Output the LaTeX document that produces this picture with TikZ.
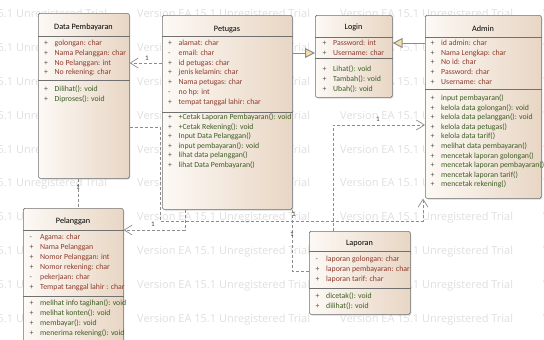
\documentclass[tikz,border=0pt]{standalone}
\usepackage{fontspec}
\setmainfont{Carlito}
\newfontfamily\wmfont{Open Sans}
\usepackage{array}
\usetikzlibrary{arrows.meta,shadows}

\definecolor{boxl}{HTML}{FDF9F5}
\definecolor{boxr}{HTML}{E8D6C4}
\definecolor{border}{HTML}{707070}
\definecolor{attrc}{HTML}{8E3A2C}
\definecolor{opc}{HTML}{3B5E23}
\definecolor{signc}{HTML}{555555}
\definecolor{linec}{HTML}{8C8C8C}
\definecolor{gentri}{HTML}{F6E1A4}
\definecolor{wmc}{HTML}{DFDFDF}

\newcolumntype{V}{>{\color{signc}}w{l}{10.5pt}}
\newcolumntype{A}{>{\color{attrc}}l}
\newcolumntype{O}{>{\color{opc}}l}

\begin{document}
\begin{tikzpicture}[x=1pt,y=-1pt,
  classbox/.style={draw=border, line width=0.6pt, rounded corners=1.5pt, left color=boxl, right color=boxr,
    anchor=north west, inner sep=0pt, drop shadow={shadow xshift=1pt, shadow yshift=-1.2pt, opacity=0.3}},
  classtitle/.style={anchor=base, inner sep=0pt, font=\fontsize{8.2}{9}\selectfont},
  members/.style={anchor=base west, inner sep=0pt, font=\fontsize{7.8}{9.8}\selectfont},
  sep/.style={draw=border, line width=0.5pt},
  dep/.style={draw=linec, line width=0.7pt, dash pattern=on 3pt off 2pt, -{Straight Barb[length=8pt,width=10pt]}},
  assoc/.style={draw=linec, line width=0.7pt, dash pattern=on 3pt off 2pt},
  gen/.style={draw=linec, line width=1pt, -{Triangle[length=10pt,width=10pt,fill=gentri]}},
  mult/.style={inner sep=0.5pt, text=black!75, font=\fontsize{7}{8}\selectfont},
  wmark/.style={anchor=west, inner sep=0pt, text=wmc, font=\wmfont\fontsize{11}{12}\selectfont}]
\useasboundingbox (0,0) rectangle (544,340);
\clip (0,0) rectangle (544,340);

% watermark
\foreach \r in {0,...,9}
  \foreach \c in {0,...,3}
    \node[wmark] (wm\r\c) at (-66+203*\c, 15+33.8*\r) {Version EA 15.1 Unregistered Trial};

% Data Pembayaran
\node[classbox, minimum width=91pt, minimum height=165pt] (dp) at (38,13) {};
\node[classtitle] (dp-t) at (83.5,30) {Data Pembayaran};
\draw[sep] (dp.west |- 0,36) -- (dp.east |- 0,36);
\draw[sep] (dp.west |- 0,80) -- (dp.east |- 0,80);
\node[members] (dp-a) at (44,45.6) {\begin{tabular}[t]{@{}V@{}A@{}}
+ & golongan: char\\ + & Nama Pelanggan: char\\ + & No Pelanggan: int\\ + & No rekening: char\end{tabular}};
\node[members] (dp-o) at (44,91.6) {\begin{tabular}[t]{@{}V@{}O@{}}
+ & Dilihat(): void\\ + & Diproses(): void\end{tabular}};

% Petugas
\node[classbox, minimum width=130pt, minimum height=194pt] (pt) at (162,15) {};
\node[classtitle] (pt-t) at (227,31) {Petugas};
\draw[sep] (pt.west |- 0,36) -- (pt.east |- 0,36);
\draw[sep] (pt.west |- 0,112) -- (pt.east |- 0,112);
\node[members] (pt-a) at (168,45.6) {\begin{tabular}[t]{@{}V@{}A@{}}
+ & alamat: char\\ - & email: char\\ + & id petugas: char\\ + & jenis kelamin: char\\
+ & Nama petugas: char\\ - & no hp: int\\ + & tempat tanggal lahir: char\end{tabular}};
\node[members, font=\fontsize{7.8}{9.5}\selectfont] (pt-o) at (168,119.6) {\begin{tabular}[t]{@{}V@{}O@{}}
+ & +Cetak Laporan Pembayaran(): void\\ + & +Cetak Rekening(): void\\ + & Input Data Pelanggan()\\
+ & input pembayaran(): void\\ + & lihat data pelanggan()\\ + & lihat Data Pembayaran()\end{tabular}};

% Login
\node[classbox, minimum width=77pt, minimum height=82pt] (lg) at (315,15) {};
\node[classtitle] (lg-t) at (353.5,30) {Login};
\draw[sep] (lg.west |- 0,37) -- (lg.east |- 0,37);
\draw[sep] (lg.west |- 0,58) -- (lg.east |- 0,58);
\node[members, font=\fontsize{7.8}{9.5}\selectfont] (lg-a) at (322.5,45.6) {\begin{tabular}[t]{@{}V@{}A@{}}
+ & Password: int\\ + & Username: char\end{tabular}};
\node[members] (lg-o) at (322.5,71.6) {\begin{tabular}[t]{@{}V@{}O@{}}
+ & Lihat(): void\\ + & Tambah(): void\\ + & Ubah(): void\end{tabular}};

% Admin
\node[classbox, minimum width=116pt, minimum height=183pt] (ad) at (425,15) {};
\node[classtitle] (ad-t) at (483,31) {Admin};
\draw[sep] (ad.west |- 0,37) -- (ad.east |- 0,37);
\draw[sep] (ad.west |- 0,89) -- (ad.east |- 0,89);
\node[members, font=\fontsize{7.8}{9.7}\selectfont] (ad-a) at (430.5,45.6) {\begin{tabular}[t]{@{}V@{}A@{}}
+ & id admin: char\\ + & Nama Lengkap: char\\ + & No id: char\\ + & Password: char\\ + & Username: char\end{tabular}};
\node[members, font=\fontsize{7.8}{9.6}\selectfont] (ad-o) at (430.5,100.6) {\begin{tabular}[t]{@{}V@{}O@{}}
+ & input pembayaran()\\ + & kelola data golongan(): void\\ + & kelola data pelanggan(): void\\
+ & kelola data petugas()\\ + & kelola data tarif()\\ + & melihat data pembayaran()\\
+ & mencetak laporan golongan()\\ + & mencetak laporan pembayaran()\\ + & mencetak laporan tarif()\\
+ & mencetak rekening()\end{tabular}};

% Pelanggan
\node[classbox, minimum width=100pt, minimum height=140pt] (pl) at (23,208) {};
\node[classtitle] (pl-t) at (73,223) {Pelanggan};
\draw[sep] (pl.west |- 0,230) -- (pl.east |- 0,230);
\draw[sep] (pl.west |- 0,296) -- (pl.east |- 0,296);
\node[members, font=\fontsize{7.8}{10}\selectfont] (pl-a) at (29.5,239.6) {\begin{tabular}[t]{@{}V@{}A@{}}
- & Agama: char\\ + & Nama Pelanggan\\ + & Nomor Pelanggan: int\\ + & Nomor rekening: char\\
- & pekerjaan: char\\ + & Tempat tanggal lahir : char\end{tabular}};
\node[members, font=\fontsize{7.8}{10}\selectfont] (pl-o) at (29.5,305.6) {\begin{tabular}[t]{@{}V@{}O@{}}
+ & melihat info tagihan(): void\\ + & melihat konten(): void\\ + & membayar(): void\\
+ & menerima rekening(): void\end{tabular}};

% Laporan
\node[classbox, minimum width=101pt, minimum height=83pt] (lp) at (309,231) {};
\node[classtitle] (lp-t) at (359.5,245) {Laporan};
\draw[sep] (lp.west |- 0,251) -- (lp.east |- 0,251);
\draw[sep] (lp.west |- 0,288) -- (lp.east |- 0,288);
\node[members, font=\fontsize{7.8}{10}\selectfont] (lp-a) at (315.5,261.6) {\begin{tabular}[t]{@{}V@{}A@{}}
- & laporan golongan: char\\ + & laporan pembayaran: char\\ + & laporan tarif: char\end{tabular}};
\node[members, font=\fontsize{7.8}{10}\selectfont] (lp-o) at (315.5,298.6) {\begin{tabular}[t]{@{}V@{}O@{}}
+ & dicetak(): void\\ + & dilihat(): void\end{tabular}};

% connectors
\draw[gen] (pt.east |- 0,53) -- (lg.west |- 0,53);
\draw[gen] (ad.west |- 0,43) -- (lg.east |- 0,43);
\draw[dep] (pt.west |- 0,63) -- (dp.east |- 0,63);
\node[mult] (m-dp) at (147,58) {1};
\draw[dep] (dp.east |- 0,127) -| (160,221) -| (ad.south -| 423,0);
\draw[dep] (pt.south -| 185,0) |- (pl.east |- 0,230);
\node[mult] (m-pl) at (153,224) {1};
\draw[assoc] (dp.south -| 78,0) -- (pl.north -| 78,0);
\node[mult] (m-dp2) at (78,187) {1};
\draw[assoc] (pt.south east) |- (lp.west |- 0,271);
\node[mult] (m-pt) at (294,214) {1};
\node[mult] (m-lp) at (292,234) {1};
\draw[dep] (lp.north -| 333,0) |- (ad.west |- 0,125);
\node[mult] (m-ad) at (378,119) {1};
\end{tikzpicture}
\end{document}
